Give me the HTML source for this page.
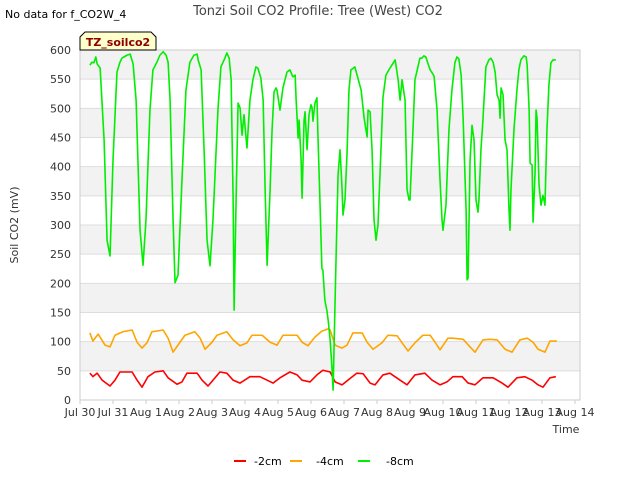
<!DOCTYPE html>
<html><head><meta charset="utf-8"><style>
body{margin:0;background:#fff;font-family:"DejaVu Sans",sans-serif}
svg text{font-family:"DejaVu Sans","Liberation Sans",sans-serif}
</style></head><body>
<svg width="640" height="480" xmlns="http://www.w3.org/2000/svg" id="chart">
<rect width="640" height="480" fill="#fff"/>
<text x="5" y="18" font-size="11" fill="#000">No data for f_CO2W_4</text>
<text x="318" y="15" font-size="13" fill="#444" text-anchor="middle">Tonzi Soil CO2 Profile: Tree (West) CO2</text>
<g id="bands"></g>
<g id="grid"></g>
<rect x="80" y="50" width="500" height="350" fill="none" stroke="#ccc"/>
<g id="yticks"></g>
<g id="xticks"></g>
<text x="18" y="225" font-size="11" fill="#333" text-anchor="middle" transform="rotate(-90 18 225)">Soil CO2 (mV)</text>
<text x="566" y="433" font-size="11" fill="#333" text-anchor="middle">Time</text>
<g id="series"></g>
<g>
<polygon points="85,32 151,32 156,37 156,50 80,50 80,37" fill="#ffffcc" stroke="#000" stroke-width="1"/>
<text x="118" y="46" font-size="11" font-weight="bold" fill="#8b0000" text-anchor="middle">TZ_soilco2</text>
</g>
<g>
<g><line x1="234" y1="461" x2="246" y2="461" stroke="#ff0000" stroke-width="2"/><text x="254" y="465" font-size="11" fill="#000">-2cm</text></g>
<g><line x1="290" y1="461" x2="302" y2="461" stroke="#ffa500" stroke-width="2"/><text x="316" y="465" font-size="11" fill="#000">-4cm</text></g>
<g><line x1="358" y1="461" x2="370" y2="461" stroke="#00ee00" stroke-width="2"/><text x="386" y="465" font-size="11" fill="#000">-8cm</text></g>
</g>
</svg>
<script>
const xLabels=["Jul 30","Jul 31","Aug 1","Aug 2","Aug 3","Aug 4","Aug 5","Aug 6","Aug 7","Aug 8","Aug 9","Aug 10","Aug 11","Aug 12","Aug 13","Aug 14"];
const yTicks=[0,50,100,150,200,250,300,350,400,450,500,550,600];
const redDays=[.30,.39,.52,.67,.91,1.06,1.21,1.58,1.73,1.88,2.06,2.27,2.52,2.67,2.94,3.09,3.24,3.55,3.70,3.88,4.09,4.24,4.45,4.64,4.85,5.15,5.45,5.67,5.85,6.06,6.36,6.58,6.73,6.97,7.18,7.36,7.58,7.73,7.94,8.12,8.39,8.58,8.79,8.94,9.18,9.39,9.70,9.91,10.15,10.45,10.67,10.91,11.12,11.30,11.58,11.76,11.97,12.21,12.52,12.79,12.97,13.24,13.48,13.70,13.88,14.03,14.24,14.42];
const redVals=[46,40,46,34,24,34,48,48,34,22,40,48,50,38,27,31,46,46,34,24,38,48,46,34,29,40,40,34,29,38,48,43,34,31,43,51,48,31,26,34,46,45,29,26,43,46,34,26,43,46,34,26,31,40,40,29,26,38,38,29,22,38,40,34,26,22,38,40];
const orangeDays=[.30,.39,.55,.76,.91,1.06,1.30,1.58,1.73,1.88,2.03,2.18,2.52,2.67,2.82,3.03,3.18,3.48,3.64,3.79,4.0,4.15,4.45,4.64,4.85,5.06,5.21,5.52,5.76,5.97,6.15,6.58,6.73,6.91,7.12,7.33,7.52,7.58,7.73,7.94,8.09,8.27,8.55,8.70,8.88,9.15,9.33,9.61,9.76,9.94,10.15,10.39,10.61,10.76,10.91,11.15,11.30,11.61,11.82,11.97,12.21,12.42,12.64,12.88,13.09,13.33,13.55,13.73,13.88,14.09,14.24,14.45];
const orangeVals=[115,101,113,94,91,111,117,120,99,89,98,117,120,106,82,99,111,117,106,87,99,111,117,103,93,98,111,111,99,94,111,111,99,93,108,118,122,120,94,89,94,115,115,99,87,98,111,110,98,84,98,111,111,99,86,106,106,104,91,82,103,104,103,87,82,103,106,99,87,82,101,101];
const greenDays=[.30,.36,.42,.48,.52,.61,.73,.82,.91,1.0,1.12,1.21,1.27,1.33,1.42,1.52,1.61,1.70,1.82,1.91,2.0,2.12,2.21,2.33,2.42,2.52,2.61,2.67,2.73,2.82,2.88,2.97,3.09,3.21,3.33,3.45,3.55,3.58,3.67,3.76,3.85,3.94,4.03,4.18,4.27,4.39,4.45,4.52,4.58,4.64,4.67,4.73,4.79,4.85,4.91,4.97,5.06,5.15,5.24,5.33,5.39,5.48,5.55,5.61,5.67,5.76,5.82,5.88,5.94,5.97,6.06,6.15,6.27,6.36,6.45,6.52,6.55,6.61,6.64,6.70,6.73,6.79,6.82,6.88,6.94,7.0,7.03,7.06,7.12,7.18,7.21,7.27,7.33,7.36,7.42,7.48,7.52,7.58,7.64,7.67,7.73,7.79,7.82,7.88,7.94,7.97,8.03,8.09,8.15,8.21,8.33,8.52,8.61,8.70,8.73,8.79,8.85,8.91,8.97,9.03,9.12,9.18,9.27,9.36,9.55,9.64,9.70,9.76,9.85,9.91,9.97,10.0,10.09,10.15,10.24,10.30,10.36,10.42,10.48,10.55,10.61,10.67,10.73,10.82,10.91,10.97,11.0,11.09,11.18,11.27,11.36,11.42,11.48,11.55,11.61,11.67,11.70,11.73,11.76,11.82,11.88,11.94,12.0,12.06,12.09,12.15,12.21,12.24,12.30,12.39,12.45,12.52,12.58,12.64,12.70,12.73,12.76,12.82,12.88,12.94,13.0,13.03,13.06,13.15,13.24,13.30,13.36,13.45,13.52,13.55,13.61,13.64,13.70,13.73,13.79,13.82,13.85,13.91,13.97,14.03,14.09,14.15,14.21,14.27,14.33,14.42];
const greenVals=[574,579,578,588,576,569,446,274,247,411,562,579,586,588,591,593,576,514,291,231,309,497,566,579,591,597,591,579,514,309,201,214,377,531,579,591,593,583,566,429,274,230,309,497,571,586,595,586,549,343,154,343,509,501,454,489,432,514,549,571,569,552,514,360,231,360,463,528,535,531,497,535,562,566,554,557,514,449,480,411,346,480,494,429,489,506,502,478,509,518,454,343,225,223,171,154,137,103,51,17,171,317,386,429,363,317,343,420,531,566,571,531,483,451,497,494,429,309,274,300,429,518,557,566,583,549,514,549,514,361,343,343,463,549,571,586,586,590,588,576,566,561,555,497,377,309,291,334,463,531,578,588,585,557,483,377,326,206,209,411,471,446,343,322,343,429,480,511,571,583,586,579,562,523,514,483,535,523,446,429,326,291,360,463,531,566,583,590,588,574,497,406,403,305,391,497,483,369,334,351,334,463,540,578,583,583];

const X0=80,DX=33,Y0=400,YS=350/600;
const xs=d=>X0+d*DX, ys=v=>Y0-v*YS;
const NS="http://www.w3.org/2000/svg";
function mk(tag,attrs,parent){const e=document.createElementNS(NS,tag);for(const k in attrs)e.setAttribute(k,attrs[k]);parent.appendChild(e);return e;}
const bands=document.getElementById('bands'),grid=document.getElementById('grid'),yt=document.getElementById('yticks'),xt=document.getElementById('xticks'),ser=document.getElementById('series');
for(let i=0;i<yTicks.length-1;i++){
  if(i%2===1){const b=mk('rect',{x:80,y:ys(yTicks[i+1]),width:500,height:ys(yTicks[i])-ys(yTicks[i+1]),fill:'#f2f2f2'},bands);
  
  }
}
yTicks.forEach(v=>{
  const l=mk('line',{x1:80,x2:580,y1:ys(v),y2:ys(v),stroke:'#ddd'},grid);
  
  
  const t=mk('text',{x:71,y:ys(v)+4,'font-size':11,fill:'#333','text-anchor':'end'},yt);
  t.textContent=v;
  
  
});
xLabels.forEach((s,i)=>{
  const tk=mk('line',{x1:xs(i),x2:xs(i),y1:400,y2:404,stroke:'#ccc'},xt);
  
  
  const t=mk('text',{x:xs(i),y:416,'font-size':11,fill:'#333','text-anchor':'middle'},xt);
  t.textContent=s;
  
  
});
function line(days,vals,color,name){
  const p=mk('polyline',{points:days.map((d,i)=>xs(d)+','+ys(vals[i])).join(' '),fill:'none',stroke:color,'stroke-width':1.6,'stroke-linejoin':'round'},ser);
  
  
}
line(redDays,redVals,'#ff0000','series-2cm');
line(orangeDays,orangeVals,'#ffa500','series-4cm');
line(greenDays,greenVals,'#00ee00','series-8cm');
</script>
</body></html>
